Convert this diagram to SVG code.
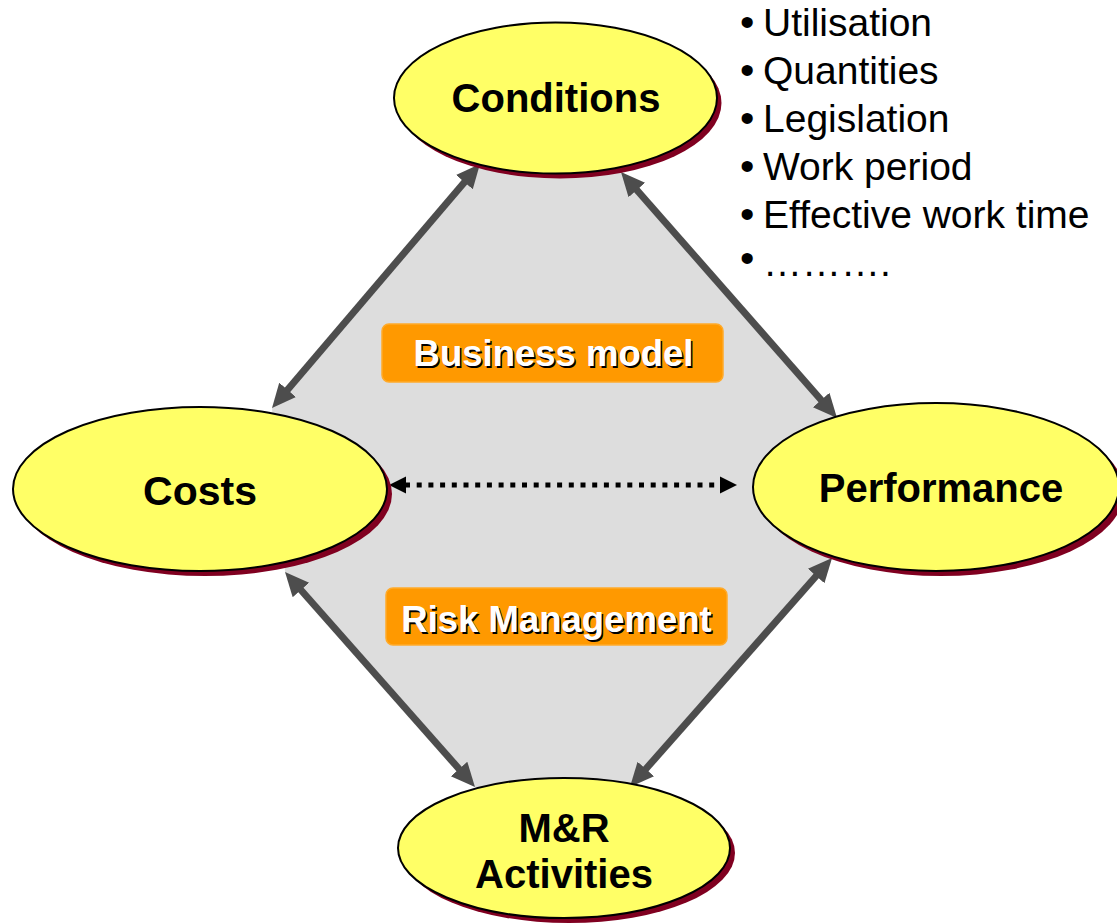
<svg xmlns="http://www.w3.org/2000/svg" width="1117" height="923" viewBox="0 0 1117 923">
  <style>
    .shadow { fill: #800020; }
    .node { fill: #ffff66; stroke: #000; stroke-width: 2; }
    .label { font-family: "Liberation Sans", Arial, sans-serif; font-weight: bold; font-size: 40px; fill: #000; text-anchor: middle; }
    .link { stroke: #4d4d4d; stroke-width: 7; fill: none; marker-start: url(#head); marker-end: url(#head); }
    .dotted { stroke: #000; stroke-width: 5; stroke-dasharray: 5 6.7; fill: none; marker-start: url(#dothead); marker-end: url(#dothead); }
    .tag { fill: #ff9900; stroke: #ffaa2a; stroke-width: 1.5; }
    .tagtext { font-family: "Liberation Sans", Arial, sans-serif; font-weight: bold; font-size: 36.5px; text-anchor: middle; }
    .list { font-family: "Liberation Sans", Arial, sans-serif; font-size: 39px; fill: #000; }
    .bullet { font-size: 41px; }
  </style>
  <defs>
    <marker id="head" markerUnits="userSpaceOnUse" markerWidth="30" markerHeight="26" viewBox="0 -13 30 26" refX="2" refY="0" orient="auto-start-reverse">
      <path d="M0,-11 L24,0 L0,11 z" fill="#4d4d4d"/>
    </marker>
    <marker id="dothead" markerUnits="userSpaceOnUse" markerWidth="20" markerHeight="20" viewBox="0 -10 20 20" refX="1" refY="0" orient="auto-start-reverse">
      <path d="M0,-8.5 L17,0 L0,8.5 z" fill="#000"/>
    </marker>
  </defs>

  <rect width="1117" height="923" fill="#fff"/>

  <!-- shaded area spanned by the four relations -->
  <polygon points="480,164 621,172 837,418 832,558 630,787 475,787 285,572 272,408" fill="#dddddd"/>

  <!-- labels inside the shaded area -->
  <g id="business-model">
    <rect class="tag" x="382" y="324" width="341" height="58" rx="7"/>
    <text class="tagtext" x="555" y="367.5" fill="#000">Business model</text>
    <text class="tagtext" x="553.5" y="366" fill="#fff">Business model</text>
  </g>
  <g id="risk-management">
    <rect class="tag" x="386" y="588" width="341" height="57" rx="7"/>
    <text class="tagtext" x="558" y="633.5" fill="#000">Risk Management</text>
    <text class="tagtext" x="556.5" y="632" fill="#fff">Risk Management</text>
  </g>

  <!-- connectors -->
  <g id="connectors">
    <line class="link" x1="465.7" y1="180.7" x2="286.3" y2="391.3"/>
    <line class="link" x1="635.5" y1="188.5" x2="822.5" y2="401.5"/>
    <line class="link" x1="299.6" y1="588.5" x2="460.4" y2="770.5"/>
    <line class="link" x1="817.5" y1="574.5" x2="644.5" y2="770.5"/>
    <line class="dotted" x1="405" y1="485" x2="721" y2="485"/>
  </g>

  <!-- nodes -->
  <g id="conditions">
    <ellipse class="shadow" cx="560" cy="103" rx="161.5" ry="75.5"/>
    <ellipse class="node" cx="555.5" cy="98" rx="161.5" ry="75.5"/>
    <text class="label" x="556" y="112">Conditions</text>
  </g>
  <g id="costs">
    <ellipse class="shadow" cx="205" cy="494" rx="187" ry="82"/>
    <ellipse class="node" cx="200" cy="489" rx="187" ry="82"/>
    <text class="label" x="200" y="505" style="font-size:41px">Costs</text>
  </g>
  <g id="performance">
    <ellipse class="shadow" cx="941" cy="492" rx="183" ry="84"/>
    <ellipse class="node" cx="936" cy="487" rx="183" ry="84"/>
    <text class="label" x="941" y="502">Performance</text>
  </g>
  <g id="mr-activities">
    <ellipse class="shadow" cx="569" cy="853" rx="166" ry="70"/>
    <ellipse class="node" cx="564" cy="848" rx="166" ry="70"/>
    <text class="label" x="564" y="842">M&amp;R</text>
    <text class="label" x="564" y="888">Activities</text>
  </g>

  <!-- factors listed next to Conditions -->
  <g id="condition-factors" class="list">
    <text y="36"><tspan class="bullet" x="740">•</tspan><tspan x="763">Utilisation</tspan></text>
    <text y="84"><tspan class="bullet" x="740">•</tspan><tspan x="763">Quantities</tspan></text>
    <text y="132"><tspan class="bullet" x="740">•</tspan><tspan x="763">Legislation</tspan></text>
    <text y="180"><tspan class="bullet" x="740">•</tspan><tspan x="763">Work period</tspan></text>
    <text y="228"><tspan class="bullet" x="740">•</tspan><tspan x="763">Effective work time</tspan></text>
    <text y="276"><tspan class="bullet" x="740" dy="-4">•</tspan><tspan x="763" dy="4">……….</tspan></text>
  </g>
</svg>
